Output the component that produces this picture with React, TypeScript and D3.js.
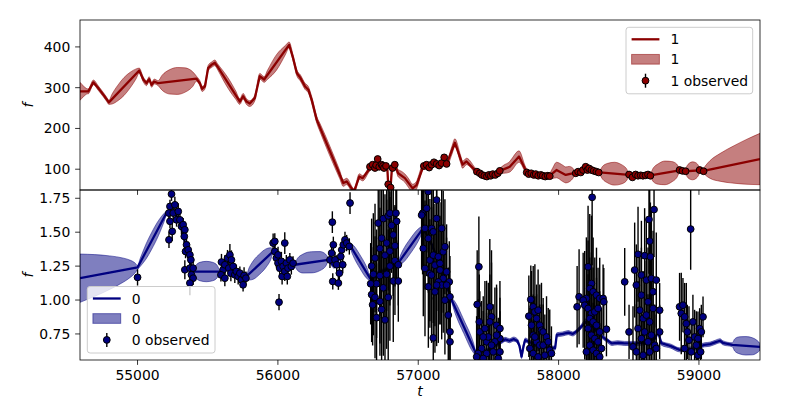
import React from 'react';
import * as d3 from 'd3';

// ---------- axes / ticks ----------
const xDomain = [54590, 59435];
const yTopDomain = [49, 466];
const yBotDomain = [0.558, 1.811];
const xTicks = [55000, 56000, 57000, 58000, 59000];
const yTicksTop = [100, 200, 300, 400];
const yTicksBot = [0.75, 1.0, 1.25, 1.5, 1.75];

// ---------- series "1" (top panel): GP mean knots ----------
const meanTopT = [54590, 54649, 54685, 54720, 54756, 54779, 54796, 55012, 55041, 55064, 55083, 55100, 55119, 55147, 55420, 55444, 55460, 55480, 55503, 55527, 55551, 55569, 55729, 55752, 55776, 55800, 55836, 55871, 55902, 56080, 56108, 56135, 56160, 56194, 56217, 56241, 56277, 56466, 56490, 56542, 56580, 56604, 56651, 56675, 56711, 56739, 56770, 56780, 56786, 56803, 56812, 56833, 56857, 56905, 56960, 56988, 57035, 57078, 57112, 57149, 57185, 57202, 57261, 57316, 57344, 57415, 57460, 57503, 57549, 57581, 57652, 57718, 57771, 57823, 57873, 57937, 57985, 58051, 58115, 58174, 58217, 58293, 58502, 58654, 58862, 58905, 59005, 59033, 59435];
const meanTopF = [291, 291, 313, 299, 283, 272, 264, 342, 320, 311, 321, 307, 315, 311, 322, 311, 297, 303, 348, 356, 361, 352, 266, 279, 266, 261, 275, 328, 320, 405, 373, 336, 324, 303, 295, 270, 221, 66, 70, 45, 82, 78, 100, 108, 118, 108, 106, 100, 62, 56, 100, 110, 90, 78, 53, 61, 106, 106, 114, 110, 118, 113, 165, 111, 119, 94, 86, 85, 87, 96, 106, 131, 94, 87, 85, 84, 98, 86, 91, 97, 100, 92, 86, 85, 97, 95, 97, 96, 125];
// band half-width (std) knots
const sdTopT = [54590, 54615, 54645, 54796, 54818, 54860, 54904, 54948, 54990, 55012, 55147, 55174, 55230, 55283, 55337, 55393, 55420, 55569, 55610, 55650, 55700, 55729, 55902, 55925, 55990, 56055, 56080, 56277, 56300, 56370, 56440, 56466, 56651, 56833, 56860, 56930, 57000, 57035, 57202, 57240, 57300, 57415, 57581, 57610, 57665, 57718, 57760, 57937, 57955, 57985, 58030, 58075, 58105, 58115, 58293, 58314, 58350, 58398, 58446, 58481, 58502, 58654, 58675, 58710, 58758, 58806, 58841, 58862, 58905, 58915, 58930, 58955, 58980, 58995, 59005, 59033, 59045, 59080, 59150, 59250, 59350, 59435];
const sdTopV = [22, 13, 6, 5, 12, 19, 22, 19, 12, 6, 6, 18, 30, 33, 30, 18, 6, 7, 11, 13, 10, 7, 7, 11, 19, 11, 7, 8, 10, 12, 10, 8, 6, 6, 9, 11, 9, 6, 6, 10, 9, 6, 6, 10, 14, 14, 8, 7, 12, 19, 20, 19, 11, 6, 6, 16, 24, 28, 24, 16, 6, 6, 17, 25, 29, 25, 17, 6, 6, 13, 19, 22, 19, 13, 6, 6, 11, 22, 34, 46, 56, 63];
// observed [t, f, err]
const obsTop: [number, number, number][] = [
  [56656, 106, 2], [56675, 111, 2], [56692, 103, 2], [56700, 110, 2], [56711, 125, 2], [56722, 106, 2], [56739, 111, 2], [56748, 108, 2], [56756, 103, 2], [56770, 108, 2], [56786, 63, 2], [56803, 55, 2], [56817, 103, 2], [56833, 111, 2],
  [57040, 108, 2], [57059, 111, 2], [57078, 104, 2], [57095, 111, 2], [57112, 117, 2], [57131, 113, 2], [57149, 109, 2], [57166, 115, 2], [57185, 129, 2], [57202, 113, 2],
  [57418, 94, 2], [57439, 90, 2], [57454, 86, 2], [57471, 84, 2], [57489, 82, 2], [57503, 86, 2], [57517, 84, 2], [57531, 88, 2], [57549, 86, 2], [57567, 90, 2], [57581, 96, 2],
  [57773, 92, 2], [57787, 88, 2], [57805, 90, 2], [57823, 86, 2], [57837, 88, 2], [57855, 84, 2], [57873, 86, 2], [57887, 84, 2], [57905, 82, 2], [57923, 84, 2], [57937, 83, 2],
  [58122, 90, 2], [58139, 94, 2], [58158, 92, 2], [58174, 98, 2], [58193, 106, 2], [58205, 98, 2], [58217, 102, 2], [58234, 98, 2], [58250, 96, 2], [58269, 94, 2], [58286, 92, 2],
  [58502, 87, 2], [58526, 80, 2], [58549, 87, 2], [58566, 84, 2], [58585, 85, 2], [58601, 84, 2], [58620, 85, 2], [58637, 87, 2], [58654, 84, 2],
  [58862, 98, 2], [58882, 96, 2], [58905, 95, 2], [59005, 98, 2], [59033, 95, 2],
];

// ---------- series "0" (bottom panel) ----------
const meanBotT = [54590, 55000, 55206, 55240, 55270, 55300, 55330, 55360, 55397, 55586, 55640, 55700, 55776, 55966, 56000, 56060, 56120, 56359, 56400, 56440, 56489, 56512, 56656, 56720, 56800, 56857, 57035, 57100, 57170, 57238, 57411, 57500, 57594, 57620, 57650, 57680, 57705, 57722, 57736, 57750, 57762, 57790, 57880, 57975, 57987, 58030, 58070, 58100, 58130, 58152, 58210, 58250, 58300, 58341, 58380, 58420, 58470, 58550, 58640, 58690, 58708, 58732, 58800, 58862, 58950, 59040, 59080, 59120, 59150, 59170, 59238, 59435];
const meanBotF = [1.161, 1.240, 1.641, 1.66, 1.63, 1.57, 1.46, 1.32, 1.21, 1.21, 1.24, 1.20, 1.174, 1.358, 1.30, 1.26, 1.26, 1.296, 1.25, 1.31, 1.444, 1.407, 1.161, 1.20, 1.24, 1.272, 1.53, 1.40, 1.20, 1.00, 0.608, 0.63, 0.695, 0.71, 0.70, 0.712, 0.70, 0.66, 0.584, 0.66, 0.705, 0.69, 0.66, 0.645, 0.743, 0.75, 0.76, 0.75, 0.77, 0.793, 0.854, 0.80, 0.74, 0.707, 0.68, 0.685, 0.68, 0.68, 0.69, 0.72, 0.768, 0.682, 0.66, 0.633, 0.64, 0.67, 0.675, 0.69, 0.70, 0.685, 0.67, 0.655];
const sdBotT = [54590, 54800, 54900, 54950, 54980, 55000, 55020, 55060, 55100, 55150, 55190, 55206, 55397, 55415, 55445, 55490, 55535, 55568, 55586, 55776, 55795, 55825, 55870, 55915, 55948, 55966, 56120, 56140, 56180, 56240, 56300, 56340, 56359, 56512, 56530, 56585, 56640, 56656, 56857, 56875, 56945, 57015, 57035, 57238, 57255, 57325, 57395, 57411, 59040, 59238, 59255, 59290, 59335, 59380, 59415, 59435];
const sdBotV = [0.178, 0.124, 0.088, 0.062, 0.039, 0.015, 0.03, 0.055, 0.062, 0.055, 0.03, 0.015, 0.015, 0.045, 0.068, 0.075, 0.068, 0.045, 0.015, 0.015, 0.045, 0.068, 0.075, 0.068, 0.045, 0.015, 0.015, 0.045, 0.07, 0.078, 0.07, 0.045, 0.015, 0.015, 0.035, 0.05, 0.035, 0.015, 0.015, 0.035, 0.055, 0.035, 0.015, 0.015, 0.035, 0.05, 0.035, 0.015, 0.015, 0.015, 0.045, 0.063, 0.068, 0.063, 0.045, 0.025];
const obsBot: [number, number, number][] = [
  [55000, 1.167, 0.06],
  [55242, 1.781, 0.05], [55231, 1.690, 0.05], [55223, 1.641, 0.06], [55254, 1.641, 0.05], [55266, 1.702, 0.06], [55231, 1.580, 0.05], [55224, 1.444, 0.06], [55247, 1.506, 0.07], [55278, 1.591, 0.05], [55290, 1.653, 0.06], [55302, 1.591, 0.05], [55313, 1.543, 0.06], [55325, 1.555, 0.05], [55337, 1.518, 0.06], [55333, 1.469, 0.05], [55349, 1.407, 0.06], [55342, 1.358, 0.05], [55361, 1.370, 0.06], [55373, 1.333, 0.05], [55380, 1.296, 0.06], [55337, 1.223, 0.07], [55373, 1.235, 0.06], [55396, 1.235, 0.05], [55384, 1.186, 0.06], [55396, 1.161, 0.05], [55373, 1.125, 0.09],
  [55598, 1.280, 0.06], [55610, 1.223, 0.06], [55594, 1.186, 0.05], [55622, 1.260, 0.07], [55641, 1.309, 0.06], [55658, 1.333, 0.08], [55669, 1.296, 0.07], [55650, 1.235, 0.06], [55665, 1.198, 0.06], [55681, 1.248, 0.05], [55693, 1.186, 0.06], [55704, 1.211, 0.05], [55717, 1.174, 0.06], [55729, 1.198, 0.05], [55740, 1.149, 0.06], [55752, 1.112, 0.05], [55759, 1.181, 0.06], [55772, 1.161, 0.05], [55622, 1.161, 0.06],
  [55966, 1.420, 0.07], [55978, 1.432, 0.06], [56049, 1.420, 0.08], [55978, 1.358, 0.06], [55989, 1.309, 0.07], [56001, 1.272, 0.06], [56013, 1.235, 0.06], [56025, 1.285, 0.07], [56037, 1.248, 0.06], [56030, 1.174, 0.06], [56049, 1.211, 0.07], [56060, 1.272, 0.06], [56072, 1.235, 0.06], [56067, 1.174, 0.06], [56085, 1.296, 0.05], [56096, 1.248, 0.06], [56108, 1.272, 0.05], [56008, 0.984, 0.06], [56001, 1.333, 0.06],
  [56388, 1.574, 0.08], [56371, 1.296, 0.06], [56383, 1.346, 0.07], [56395, 1.407, 0.06], [56407, 1.296, 0.06], [56391, 1.137, 0.06], [56419, 1.260, 0.07], [56431, 1.125, 0.05], [56438, 1.198, 0.06], [56448, 1.321, 0.06], [56455, 1.370, 0.06], [56466, 1.407, 0.05], [56478, 1.444, 0.06], [56490, 1.420, 0.06], [56514, 1.715, 0.08], [56462, 1.260, 0.06], [56509, 1.395, 0.06],
  [56715, 1.567, 0.45], [56751, 1.60, 0.5], [56786, 1.62, 0.55], [56798, 1.64, 0.4], [56841, 1.64, 0.5], [56846, 1.58, 0.45], [56810, 1.55, 0.35], [56739, 1.456, 0.4], [56775, 1.42, 0.5], [56822, 1.48, 0.45], [56834, 1.40, 0.3], [56727, 1.38, 0.5], [56763, 1.33, 0.45], [56692, 1.31, 0.4], [56668, 1.25, 0.35], [56798, 1.25, 0.55], [56834, 1.29, 0.4], [56858, 1.26, 0.3], [56680, 1.19, 0.45], [56727, 1.18, 0.5], [56775, 1.19, 0.55], [56703, 1.12, 0.4], [56751, 1.09, 0.5], [56822, 1.14, 0.45], [56858, 1.14, 0.3], [56668, 1.04, 0.35], [56692, 1.02, 0.45], [56727, 0.99, 0.4], [56786, 1.02, 0.5], [56739, 0.93, 0.45], [56675, 0.965, 0.3], [56763, 0.854, 0.45], [56703, 0.87, 0.4], [56798, 1.36, 0.4], [56661, 1.12, 0.3],
  [57031, 1.639, 0.45], [57024, 1.626, 0.4], [57060, 1.676, 0.5], [57048, 1.528, 0.45], [57036, 1.380, 0.5], [57072, 1.454, 0.4], [57095, 1.528, 0.45], [57107, 1.503, 0.5], [57131, 1.601, 0.4], [57131, 1.737, 0.45], [57048, 1.233, 0.5], [57083, 1.294, 0.45], [57083, 1.196, 0.4], [57107, 1.331, 0.5], [57119, 1.257, 0.45], [57143, 1.319, 0.4], [57155, 1.270, 0.45], [57167, 1.528, 0.4], [57178, 1.356, 0.45], [57190, 1.393, 0.35], [57178, 1.159, 0.4], [57143, 1.134, 0.45], [57155, 1.221, 0.4], [57119, 1.061, 0.45], [57167, 1.110, 0.4], [57202, 1.208, 0.35], [57221, 1.134, 0.3], [57226, 1.024, 0.3], [57214, 0.889, 0.35], [57226, 0.766, 0.3], [57226, 0.692, 0.3], [57107, 0.721, 0.3], [57190, 0.999, 0.4], [57131, 1.110, 0.45], [57095, 1.184, 0.5], [57072, 1.098, 0.45], [57202, 1.110, 0.35], [57071, 1.80, 0.45],
  [57432, 1.245, 0.37], [57420, 0.967, 0.4], [57435, 0.839, 0.35], [57439, 0.765, 0.3], [57475, 0.79, 0.35], [57510, 0.95, 0.5], [57522, 0.876, 0.4], [57510, 0.839, 0.35], [57558, 0.814, 0.3], [57582, 0.79, 0.35], [57582, 0.716, 0.3], [57546, 0.692, 0.4], [57487, 0.692, 0.45], [57451, 0.643, 0.35], [57427, 0.606, 0.4], [57487, 0.606, 0.3], [57534, 0.618, 0.35], [57582, 0.618, 0.3], [57499, 0.728, 0.4], [57463, 0.728, 0.3], [57558, 0.741, 0.35], [57416, 0.581, 0.3], [57570, 0.569, 0.3], [57522, 0.667, 0.7], [57463, 0.569, 0.35],
  [57788, 0.881, 0.3], [57802, 1.004, 0.25], [57819, 0.95, 0.3], [57831, 0.913, 0.35], [57854, 0.925, 0.3], [57843, 0.864, 0.25], [57866, 0.814, 0.3], [57878, 0.777, 0.35], [57890, 0.765, 0.25], [57914, 0.728, 0.3], [57807, 0.814, 0.4], [57819, 0.741, 0.3], [57843, 0.692, 0.35], [57866, 0.667, 0.3], [57795, 0.643, 0.3], [57819, 0.606, 0.25], [57890, 0.667, 0.3], [57926, 0.692, 0.25], [57937, 0.63, 0.3], [57949, 0.606, 0.2], [57902, 0.593, 0.3], [57854, 0.581, 0.25], [57831, 0.728, 0.3],
  [58132, 0.95, 0.3], [58146, 1.024, 0.35], [58210, 1.245, 0.45], [58239, 1.757, 0.5], [58234, 1.122, 0.5], [58222, 1.085, 0.55], [58246, 1.061, 0.4], [58270, 1.036, 0.35], [58293, 1.012, 0.3], [58317, 1.012, 0.25], [58198, 1.012, 0.45], [58175, 0.999, 0.35], [58186, 0.962, 0.4], [58210, 0.938, 0.5], [58234, 0.901, 0.45], [58258, 0.913, 0.4], [58281, 0.938, 0.3], [58222, 0.864, 0.45], [58246, 0.839, 0.4], [58270, 0.814, 0.35], [58293, 0.765, 0.3], [58341, 0.785, 0.2], [58210, 0.79, 0.4], [58234, 0.741, 0.5], [58258, 0.716, 0.35], [58281, 0.692, 0.3], [58222, 0.667, 0.4], [58246, 0.63, 0.35], [58270, 0.606, 0.3], [58293, 0.581, 0.25], [58198, 0.618, 0.35], [58305, 0.643, 0.3], [58322, 0.987, 0.25],
  [58471, 1.134, 0.25], [58502, 0.765, 0.2], [58542, 1.221, 0.35], [58554, 1.110, 0.3], [58566, 1.337, 0.35], [58590, 1.184, 0.4], [58613, 1.327, 0.35], [58625, 1.147, 0.45], [58644, 1.594, 0.4], [58649, 1.434, 0.45], [58654, 1.319, 0.4], [58680, 1.667, 0.35], [58661, 1.159, 0.5], [58696, 1.147, 0.35], [58578, 0.925, 0.4], [58602, 0.864, 0.35], [58625, 0.889, 0.4], [58649, 0.839, 0.45], [58673, 0.938, 0.4], [58720, 0.925, 0.2], [58566, 0.79, 0.35], [58590, 0.716, 0.3], [58613, 0.765, 0.4], [58637, 0.692, 0.35], [58661, 0.741, 0.45], [58685, 0.667, 0.3], [58530, 0.655, 0.3], [58554, 0.618, 0.35], [58602, 0.593, 0.3], [58649, 0.618, 0.35], [58696, 0.643, 0.25], [58720, 0.765, 0.2], [58637, 0.987, 0.4], [58590, 1.036, 0.35], [58673, 1.061, 0.45],
  [58862, 0.95, 0.25], [58874, 0.901, 0.3], [58886, 0.962, 0.2], [58898, 0.876, 0.25], [58910, 0.826, 0.3], [58917, 0.765, 0.2], [58941, 1.523, 0.3], [58957, 0.839, 0.2], [58929, 0.704, 0.25], [58969, 0.728, 0.2], [58981, 0.667, 0.25], [58993, 0.716, 0.2], [59005, 0.79, 0.15], [59017, 0.765, 0.2], [59029, 0.876, 0.15], [58898, 0.643, 0.25], [58945, 0.618, 0.2], [58993, 0.593, 0.2], [59012, 0.618, 0.15],
];

const legendTopLabels = ['1', '1', '1 observed'];
const legendBotLabels = ['0', '0', '0 observed'];

// ---------- layout ----------
const W = 800, H = 400;
const L = 80, R = 760, TOP1 = 20, BOT1 = 190, TOP2 = 190, BOT2 = 360;
const FONT = 'DejaVu Sans';
const FS = 13.9;
const TICK = 4.86;
const RED = '#8b0000';
const NAVY = '#000080';

export default function App() {
  const x = d3.scaleLinear().domain(xDomain).range([L, R]);
  const yT = d3.scaleLinear().domain(yTopDomain).range([BOT1, TOP1]);
  const yB = d3.scaleLinear().domain(yBotDomain).range([BOT2, TOP2]);

  const band = (mT: number[], mF: number[], sT: number[], sV: number[], y: d3.ScaleLinear<number, number>) => {
    const m = d3.scaleLinear().domain(mT).range(mF).clamp(true);
    const s = d3.scaleLinear().domain(sT).range(sV).clamp(true);
    const ts = Array.from(new Set([...mT, ...sT])).sort((a, b) => a - b);
    return d3.area<number>()
      .x(t => x(t))
      .y0(t => y(m(t) - s(t)))
      .y1(t => y(m(t) + s(t)))
      .curve(d3.curveMonotoneX)(ts) || '';
  };
  const line = (mT: number[], mF: number[], y: d3.ScaleLinear<number, number>) =>
    d3.line<number>().x((_, i) => x(mT[i])).y(d => y(d))(mF) || '';

  const fmtBot = d3.format('.2f');

  const panel = (
    id: string, y: d3.ScaleLinear<number, number>,
    mT: number[], mF: number[], sT: number[], sV: number[], obs: [number, number, number][], color: string
  ) => (
    <g clipPath={`url(#${id})`}>
      <path d={band(mT, mF, sT, sV, y)} fill={color} fillOpacity={0.5} stroke={color} strokeOpacity={0.5} strokeWidth={1} />
      <path d={line(mT, mF, y)} fill="none" stroke={color} strokeWidth={2.3} strokeLinejoin="round" />
      {obs.map((o, i) => (
        <line key={'e' + i} x1={x(o[0])} x2={x(o[0])} y1={y(o[1] - o[2])} y2={y(o[1] + o[2])} stroke="#000" strokeWidth={1.4} />
      ))}
      {obs.map((o, i) => (
        <circle key={'c' + i} cx={x(o[0])} cy={y(o[1])} r={3.4} fill={color} stroke="#000" strokeWidth={1} />
      ))}
    </g>
  );

  const legend = (lx: number, ly: number, w: number, labels: string[], color: string) => {
    const hx0 = lx + 5.6, hx1 = hx0 + 27.8, tx = lx + 44.5;
    const r0 = ly + 12, r1 = ly + 32, r2 = ly + 53.4;
    return (
      <g fontFamily={FONT} fontSize={FS}>
        <rect x={lx} y={ly} width={w} height={66.5} rx={2.8} fill="#fff" fillOpacity={0.8} stroke="#cccccc" strokeWidth={1} />
        <line x1={hx0} x2={hx1} y1={r0} y2={r0} stroke={color} strokeWidth={2.3} />
        <text x={tx} y={r0} dy="0.36em">{labels[0]}</text>
        <rect x={hx0} y={r1 - 4.85} width={27.8} height={9.7} fill={color} fillOpacity={0.5} stroke={color} strokeOpacity={0.5} strokeWidth={1} />
        <text x={tx} y={r1} dy="0.36em">{labels[1]}</text>
        <line x1={(hx0 + hx1) / 2} x2={(hx0 + hx1) / 2} y1={r2 - 7} y2={r2 + 7} stroke="#000" strokeWidth={1.4} />
        <circle cx={(hx0 + hx1) / 2} cy={r2} r={3.4} fill={color} stroke="#000" strokeWidth={1} />
        <text x={tx} y={r2} dy="0.36em">{labels[2]}</text>
      </g>
    );
  };

  return (
    <svg width={W} height={H} style={{ position: 'absolute', left: 0, top: 0, background: '#fff' }}>
      <defs>
        <clipPath id="clipTop"><rect x={L} y={TOP1} width={R - L} height={BOT1 - TOP1} /></clipPath>
        <clipPath id="clipBot"><rect x={L} y={TOP2} width={R - L} height={BOT2 - TOP2} /></clipPath>
      </defs>
      <rect x={0} y={0} width={W} height={H} fill="#fff" />

      {panel('clipTop', yT, meanTopT, meanTopF, sdTopT, sdTopV, obsTop, RED)}
      {panel('clipBot', yB, meanBotT, meanBotF, sdBotT, sdBotV, obsBot, NAVY)}

      {/* frames */}
      <rect x={L} y={TOP1} width={R - L} height={BOT1 - TOP1} fill="none" stroke="#000" strokeWidth={0.8} />
      <rect x={L} y={TOP2} width={R - L} height={BOT2 - TOP2} fill="none" stroke="#000" strokeWidth={0.8} />

      {/* x ticks on both panels */}
      {xTicks.map(t => (
        <g key={'xt' + t}>
          <line x1={x(t)} x2={x(t)} y1={BOT1} y2={BOT1 + TICK} stroke="#000" strokeWidth={0.8} />
          <line x1={x(t)} x2={x(t)} y1={BOT2} y2={BOT2 + TICK} stroke="#000" strokeWidth={0.8} />
          <text x={x(t)} y={BOT2 + TICK + 4.86 + 10.2} textAnchor="middle" fontFamily={FONT} fontSize={FS}>{t}</text>
        </g>
      ))}
      {yTicksTop.map(v => (
        <g key={'yt' + v}>
          <line x1={L - TICK} x2={L} y1={yT(v)} y2={yT(v)} stroke="#000" strokeWidth={0.8} />
          <text x={L - TICK - 4.86} y={yT(v)} dy="0.36em" textAnchor="end" fontFamily={FONT} fontSize={FS}>{v}</text>
        </g>
      ))}
      {yTicksBot.map(v => (
        <g key={'yb' + v}>
          <line x1={L - TICK} x2={L} y1={yB(v)} y2={yB(v)} stroke="#000" strokeWidth={0.8} />
          <text x={L - TICK - 4.86} y={yB(v)} dy="0.36em" textAnchor="end" fontFamily={FONT} fontSize={FS}>{fmtBot(v)}</text>
        </g>
      ))}

      {/* axis labels */}
      <text transform={`translate(33,${(TOP1 + BOT1) / 2}) rotate(-90)`} textAnchor="middle" fontFamily={FONT} fontStyle="italic" fontSize={FS}>f</text>
      <text transform={`translate(33,${(TOP2 + BOT2) / 2}) rotate(-90)`} textAnchor="middle" fontFamily={FONT} fontStyle="italic" fontSize={FS}>f</text>
      <text x={(L + R) / 2} y={396} textAnchor="middle" fontFamily={FONT} fontStyle="italic" fontSize={FS}>t</text>

      {legend(626, 27.3, 126.7, legendTopLabels, RED)}
      {legend(87.3, 286.5, 127.7, legendBotLabels, NAVY)}
    </svg>
  );
}
